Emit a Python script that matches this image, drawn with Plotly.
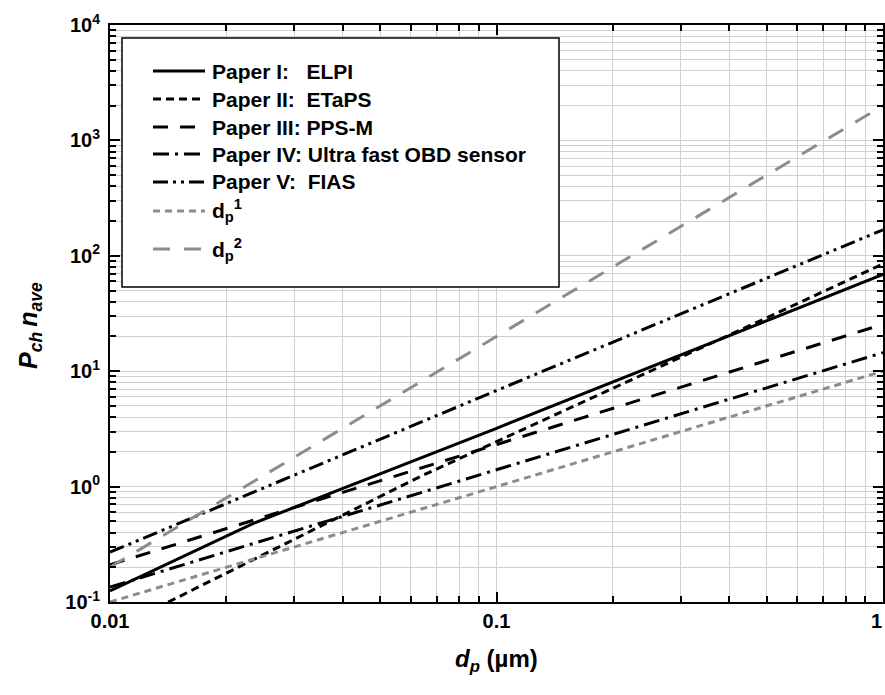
import plotly.graph_objects as go

# Particle diameter d_p (µm) and average charge P_ch·n_ave at the break points of each curve
elpi_d = [0.01, 0.0235, 0.1, 1.0]
elpi_v = [0.125, 0.48, 3.2, 69]

etaps_d = [0.01, 0.0142, 0.03, 0.0631, 0.154, 0.5, 1.0]
etaps_v = [0.056, 0.1, 0.35, 1.21, 4.75, 29, 85]

ppsm_d = [0.01, 0.1, 1.0]
ppsm_v = [0.21, 2.3, 25.5]

obd_d = [0.01, 0.1, 1.0]
obd_v = [0.135, 1.41, 14.5]

fias_d = [0.01, 0.1, 1.0]
fias_v = [0.27, 6.8, 168]

dp1_d = [0.01, 1.0]
dp1_v = [0.1, 10]

dp2_d = [0.01, 1.0]
dp2_v = [0.2, 2000]

legend_names = [
    "Paper I:\u00a0\u00a0\u00a0ELPI",
    "Paper II:\u00a0\u00a0ETaPS",
    "Paper III: PPS-M",
    "Paper IV: Ultra fast OBD sensor",
    "Paper V:\u00a0\u00a0FIAS",
    "d<sub>p</sub><sup>1</sup>",
    "d<sub>p</sub><sup>2</sup>",
]

x_tick_vals = [0.01, 0.1, 1]
x_tick_text = ["0.01", "0.1", "1"]
y_tick_vals = [0.1, 1, 10, 100, 1000, 10000]
y_tick_text = ["10<sup>-1</sup>", "10<sup>0</sup>", "10<sup>1</sup>",
               "10<sup>2</sup>", "10<sup>3</sup>", "10<sup>4</sup>"]

# minor ticks at 2..9 of every decade
x_minor_vals = [m * 10.0 ** e for e in (-2, -1) for m in range(2, 10)]
y_minor_vals = [m * 10.0 ** e for e in (-1, 0, 1, 2, 3) for m in range(2, 10)]

BLACK = "#000000"
GREY = "#8c8c8c"
series = [
    (elpi_d, elpi_v, BLACK, "solid"),
    (etaps_d, etaps_v, BLACK, "8px,5px"),
    (ppsm_d, ppsm_v, BLACK, "15px,12px"),
    (obd_d, obd_v, BLACK, "16px,6px,3px,6px"),
    (fias_d, fias_v, BLACK, "15px,5px,3px,5px,3px,5px"),
    (dp1_d, dp1_v, GREY, "7px,5px"),
    (dp2_d, dp2_v, GREY, "17px,14px"),
]

W, H = 885, 695
M_L, M_R, M_T, M_B = 110, 2, 25, 93
PW, PH = W - M_L - M_R, H - M_T - M_B
FONT = "Liberation Sans, Arial"


def px(xp):
    return (xp - M_L) / PW


def py(yp):
    return 1 - (yp - M_T) / PH


fig = go.Figure()
for (d, v, color, dash), name in zip(series, legend_names):
    fig.add_trace(go.Scatter(
        x=d, y=v, mode="lines", name=name, showlegend=False,
        line=dict(color=color, width=3, dash=dash),
    ))

# Boxed key in the upper-left corner of the plot area
shapes = [dict(type="rect", xref="paper", yref="paper",
               x0=px(122), x1=px(559), y0=py(38), y1=py(287),
               fillcolor="white", line=dict(color="black", width=1.5), layer="above")]
annotations = []
row_y = [71, 99, 127, 154, 182, 211, 249]
for (d, v, color, dash), name, yy in zip(series, legend_names, row_y):
    shapes.append(dict(type="line", xref="paper", yref="paper",
                       x0=px(153), x1=px(205), y0=py(yy), y1=py(yy),
                       line=dict(color=color, width=3, dash=dash), layer="above"))
    annotations.append(dict(xref="paper", yref="paper", x=px(210), y=py(yy),
                            xanchor="left", yanchor="middle", showarrow=False,
                            text="<b>" + name + "</b>",
                            font=dict(family=FONT, size=21, color="black")))

# The last x tick label sits flush against the right edge, so it is set as a
# right-anchored label instead of a centred one
annotations.append(dict(xref="x", yref="paper", x=0, y=py(621),
                        xanchor="right", yanchor="middle", showarrow=False, xshift=1,
                        text="<b>" + x_tick_text[-1] + "</b>",
                        font=dict(family=FONT, size=20, color="black")))
x_tick_shown = x_tick_text[:-1] + [""]

# Axis titles
annotations.append(dict(xref="paper", yref="paper", x=px(496), y=py(660),
                        xanchor="center", yanchor="middle", showarrow=False,
                        text="<b><i>d</i><sub><i>p</i></sub> (\u00b5m)</b>",
                        font=dict(family=FONT, size=24, color="black")))
annotations.append(dict(xref="paper", yref="paper", x=px(30), y=py(326),
                        xanchor="center", yanchor="middle", showarrow=False, textangle=-90,
                        text="<b><i>P</i><sub><i>ch</i></sub>\u2009<i>n</i><sub><i>ave</i></sub></b>",
                        font=dict(family=FONT, size=25, color="black")))

axis_common = dict(
    type="log", automargin=False,
    showline=True, linecolor="black", linewidth=2, mirror="ticks",
    ticks="inside", ticklen=10, tickwidth=2, tickcolor="black",
    showgrid=True, gridcolor="#d0d0d0", gridwidth=1,
    tickfont=dict(family=FONT, size=20, color="black", weight="bold"),
    zeroline=False,
)
minor_common = dict(ticks="inside", ticklen=6, tickwidth=2, tickcolor="black",
                    showgrid=True, gridcolor="#d0d0d0", gridwidth=1)

fig.update_xaxes(range=[-2, 0], tickvals=x_tick_vals, ticktext=x_tick_shown,
                 minor=dict(tickvals=x_minor_vals, **minor_common), **axis_common)
fig.update_yaxes(range=[-1, 4], tickvals=y_tick_vals, ticktext=y_tick_text,
                 ticklabelstandoff=4,
                 minor=dict(tickvals=y_minor_vals, **minor_common), **axis_common)

fig.update_layout(
    width=W, height=H, autosize=False,
    margin=dict(l=M_L, r=M_R, t=M_T, b=M_B, pad=0),
    paper_bgcolor="white", plot_bgcolor="white",
    shapes=shapes, annotations=annotations,
    showlegend=False,
)

fig.write_html("out.html")
